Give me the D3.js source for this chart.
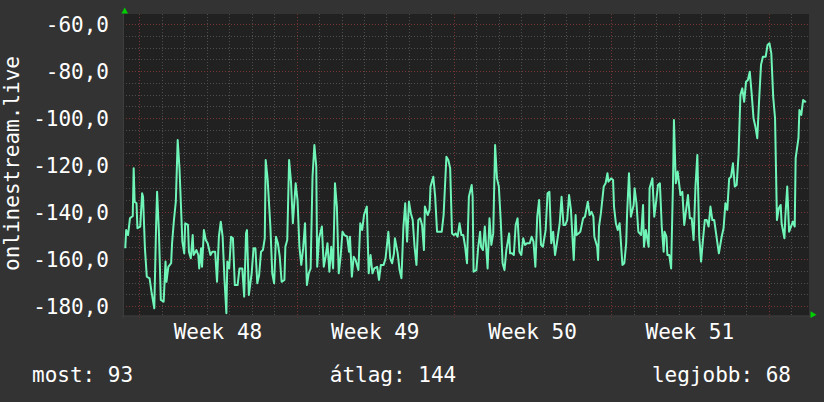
<!DOCTYPE html>
<html><head><meta charset="utf-8">
<script src="https://cdn.jsdelivr.net/npm/d3@7"></script>
<style>html,body{margin:0;padding:0;background:#333333;}svg{display:block;}</style>
</head><body>
<svg id="chart" width="824" height="402"></svg>
<script>
// hours since start of Week 48 (Monday 00:00)
const hours = [-15,-14,-12,-10,-7,-6,-5,-3,-2,1,3,4,6,8,11,13,16,18,19,21,23,26,28,29,31,34,35,37,39,41,43,46,48,49,52,53,55,57,58,61,63,64,66,67,69,71,73,76,78,81,83,85,87,89,91,93,94,96,98,100,102,105,107,110,112,114,115,117,120,122,124,126,128,130,132,134,135,137,140,142,144,146,148,150,152,155,156,158,160,162,164,167,169,171,173,175,177,179,181,183,185,187,189,190,192,195,197,199,201,203,205,207,209,211,213,215,217,219,222,224,225,227,229,231,234,236,238,240,243,245,247,249,251,254,256,258,261,263,266,268,270,272,273,276,278,280,282,284,286,288,290,292,294,296,298,300,302,304,305,308,310,311,314,316,318,320,323,325,328,330,332,334,336,338,340,342,344,346,348,350,352,355,356,357,360,362,364,365,367,369,372,374,376,378,380,382,384,386,388,390,392,395,396,398,400,402,404,406,408,410,412,414,417,419,421,423,425,427,429,431,434,436,438,440,442,444,446,449,451,453,455,457,459,461,464,466,467,469,471,474,476,479,481,483,485,486,489,490,491,493,496,498,500,501,504,506,507,509,511,513,516,518,520,521,523,525,528,529,531,533,536,538,539,541,544,545,548,550,552,554,556,558,560,561,563,564,566,568,570,571,573,575,578,580,582,584,586,588,590,592,594,596,598,600,602,604,606,608,610,612,614,616,618,619,622,624,626,628,630,632,634,636,638,640,642,644,646,648,650,652,654,656,658,660,662,664,666,669,671,673,675,677,679,681,683,685,686,689,690,692,694,696,698,700,701,704,705,707,709,711,712];
const values = [-155.4,-147.7,-149.8,-142.7,-141.7,-121.4,-135.6,-136.3,-146.9,-146.2,-132.0,-133.5,-155.4,-167.5,-168.2,-173.9,-181.0,-144.8,-131.4,-149.1,-177.4,-178.2,-161.1,-169.7,-163.3,-161.8,-153.3,-143.4,-135.6,-109.4,-122.1,-152.6,-157.6,-144.8,-145.5,-156.9,-159.7,-149.8,-158.3,-156.2,-158.3,-164.0,-155.4,-163.3,-147.7,-151.9,-153.3,-158.3,-156.9,-156.9,-169.7,-150.5,-144.1,-150.5,-168.9,-183.1,-161.1,-164.0,-150.5,-151.2,-171.1,-171.1,-164.0,-164.0,-176.0,-149.1,-147.7,-175.3,-166.1,-155.4,-155.4,-170.3,-166.8,-156.9,-156.2,-151.2,-117.9,-125.7,-146.2,-166.1,-170.3,-150.5,-153.3,-159.0,-169.7,-168.9,-154.8,-151.9,-117.9,-127.1,-144.8,-127.8,-134.9,-154.8,-162.5,-155.4,-144.8,-171.1,-166.1,-164.0,-125.0,-111.5,-120.7,-163.3,-151.2,-146.2,-163.3,-159.0,-153.3,-165.4,-154.8,-164.0,-127.8,-137.7,-166.1,-159.0,-148.4,-149.8,-150.5,-156.9,-150.5,-167.5,-159.0,-160.4,-164.7,-144.8,-147.7,-141.3,-137.7,-166.1,-158.3,-166.1,-164.0,-163.3,-168.9,-162.5,-162.5,-159.7,-148.4,-159.7,-161.8,-157.6,-151.2,-157.6,-164.7,-168.2,-146.9,-136.3,-152.6,-135.6,-140.5,-143.4,-154.8,-162.5,-143.4,-142.7,-145.5,-156.2,-137.7,-141.3,-139.1,-129.2,-125.0,-133.5,-148.4,-148.4,-148.4,-141.3,-116.5,-117.9,-121.4,-149.1,-149.8,-149.1,-150.5,-144.8,-149.8,-149.8,-154.8,-161.8,-133.5,-128.5,-133.5,-165.4,-164.7,-154.8,-148.4,-154.8,-156.2,-146.2,-164.0,-142.7,-154.0,-149.1,-111.5,-125.7,-129.2,-143.4,-161.8,-164.7,-156.2,-149.1,-157.6,-157.6,-158.3,-145.5,-142.7,-156.9,-158.3,-151.2,-154.0,-153.3,-153.3,-150.5,-152.6,-163.3,-142.0,-134.9,-154.0,-154.8,-147.7,-132.0,-131.4,-153.3,-148.4,-158.3,-153.3,-144.8,-133.5,-145.5,-145.5,-143.4,-132.8,-139.1,-160.4,-141.3,-149.8,-149.1,-148.4,-142.7,-142.0,-135.6,-141.3,-139.9,-142.0,-150.5,-154.8,-160.4,-146.2,-140.5,-129.2,-127.8,-123.5,-127.1,-125.7,-126.4,-137.7,-144.8,-147.7,-144.8,-162.5,-161.8,-153.3,-140.5,-123.5,-142.0,-137.0,-129.9,-136.3,-148.4,-149.8,-137.0,-154.8,-147.7,-154.8,-129.9,-125.7,-142.0,-135.6,-128.5,-127.8,-146.2,-156.9,-148.4,-150.5,-158.3,-158.3,-164.0,-127.8,-100.8,-127.8,-122.8,-132.8,-131.4,-145.5,-139.1,-132.8,-142.7,-142.7,-151.9,-129.2,-115.7,-150.5,-161.1,-151.9,-143.4,-143.4,-146.2,-137.7,-143.4,-143.4,-149.1,-154.8,-157.6,-150.5,-146.9,-136.3,-139.1,-125.7,-125.0,-119.3,-129.2,-128.5,-115.7,-90.2,-87.4,-93.1,-84.6,-83.8,-80.3,-89.5,-100.1,-103.7,-108.6,-92.3,-77.4,-73.9,-73.9,-68.9,-68.2,-72.5,-90.9,-100.1,-143.4,-138.4,-137.0,-144.8,-151.2,-142.0,-129.2,-148.4,-146.2,-144.1,-146.2,-117.1,-108.6,-96.6,-98.7,-92.3,-93.1,-92.8];

const yTicks = [-180,-160,-140,-120,-100,-80,-60];
const yTickLabels = ["-180,0","-160,0","-140,0","-120,0","-100,0","-80,0","-60,0"];
const weekStarts = [0,168,336,504,672];
const weekLabels = ["Week 48","Week 49","Week 50","Week 51"];
const yTitle = "onlinestream.live";
const legendItems = ["most: 93","átlag: 144","legjobb: 68"];

const svg = d3.select("#chart");
const W = 824, H = 402;
const plot = {l:123, r:809, t:14, b:315.5};
const font = "'DejaVu Sans Mono', monospace";

svg.append("rect").attr("width",W).attr("height",H).attr("fill","#333333");
svg.append("rect").attr("x",plot.l).attr("y",plot.t).attr("width",plot.r-plot.l).attr("height",plot.b-plot.t).attr("fill","#212121");

const x = d3.scaleLinear().domain([0,672]).range([139.3,768.5]);
const y = d3.scaleLinear().domain([-180,-60]).range([306,24]);

// minor horizontal grid every 5
const minorY = d3.range(-180,-59,5).filter(v=>v%20!==0);
svg.append("g").selectAll("line").data(minorY).join("line")
  .attr("x1",plot.l).attr("x2",plot.r)
  .attr("y1",d=>Math.round(y(d))+0.5).attr("y2",d=>Math.round(y(d))+0.5)
  .attr("stroke","#4e4e4e").attr("stroke-dasharray","1,2");
// minor vertical grid every day
const days = d3.range(-24,720,24).filter(h=>x(h)>plot.l && x(h)<plot.r && h%168!==0);
svg.append("g").selectAll("line").data(days).join("line")
  .attr("y1",plot.t).attr("y2",plot.b)
  .attr("x1",d=>Math.round(x(d))+0.5).attr("x2",d=>Math.round(x(d))+0.5)
  .attr("stroke","#4e4e4e").attr("stroke-dasharray","1,2");
// major grid
svg.append("g").selectAll("line").data(yTicks).join("line")
  .attr("x1",plot.l).attr("x2",plot.r)
  .attr("y1",d=>Math.round(y(d))+0.5).attr("y2",d=>Math.round(y(d))+0.5)
  .attr("stroke","#7a3434").attr("stroke-dasharray","1,2");
svg.append("g").selectAll("line").data(weekStarts).join("line")
  .attr("y1",plot.t).attr("y2",plot.b+2)
  .attr("x1",d=>Math.round(x(d))+0.5).attr("x2",d=>Math.round(x(d))+0.5)
  .attr("stroke","#7a3434").attr("stroke-dasharray","1,2");

// axes lines
svg.append("line").attr("x1",plot.l+0.5).attr("x2",plot.l+0.5).attr("y1",plot.t-2).attr("y2",plot.b+3).attr("stroke","#3d3d3d");
svg.append("line").attr("x1",plot.l-2).attr("x2",plot.r+2).attr("y1",plot.b+0.5).attr("y2",plot.b+0.5).attr("stroke","#3d3d3d");

// arrows
svg.append("path").attr("d","M124.7,7.5 L121.5,13.5 L128,13.5 Z").attr("fill","#00d000");
svg.append("path").attr("d","M816.5,314.7 L810.5,311.3 L810.5,318.1 Z").attr("fill","#00d000");

// data line
svg.append("clipPath").attr("id","clip").append("rect")
  .attr("x",plot.l).attr("y",plot.t).attr("width",plot.r-plot.l).attr("height",plot.b-plot.t);
const pts = hours.map((h,i)=>[h,values[i]]);
svg.append("path").datum(pts)
  .attr("clip-path","url(#clip)")
  .attr("fill","none").attr("stroke","#70f5b8").attr("stroke-width",2)
  .attr("stroke-linejoin","round")
  .attr("d",d3.line().x(d=>x(d[0])).y(d=>y(d[1])));

// y tick labels
svg.append("g").selectAll("text").data(yTicks).join("text")
  .attr("x",109).attr("y",d=>y(d)+8)
  .attr("text-anchor","end").attr("fill","#ffffff")
  .style("font-family",font).style("font-size","21px")
  .text((d,i)=>yTickLabels[i]);

// week labels
svg.append("g").selectAll("text").data(weekLabels).join("text")
  .attr("x",(d,i)=>x((weekStarts[i]+weekStarts[i+1])/2)).attr("y",338.5)
  .attr("text-anchor","middle").attr("fill","#ffffff")
  .style("font-family",font).style("font-size","21px")
  .text(d=>d);

// y title
svg.append("text").attr("transform","translate(18.5,163.5) rotate(-90)")
  .attr("text-anchor","middle").attr("fill","#ffffff")
  .style("font-family",font).style("font-size","21px").text(yTitle);

// legend
const legendPos = [{x:32,a:"start"},{x:393,a:"middle"},{x:791,a:"end"}];
svg.append("g").selectAll("text").data(legendItems).join("text")
  .attr("x",(d,i)=>legendPos[i].x).attr("y",381.5)
  .attr("text-anchor",(d,i)=>legendPos[i].a).attr("fill","#ffffff")
  .style("font-family",font).style("font-size","21px")
  .text(d=>d);
</script>
</body></html>
